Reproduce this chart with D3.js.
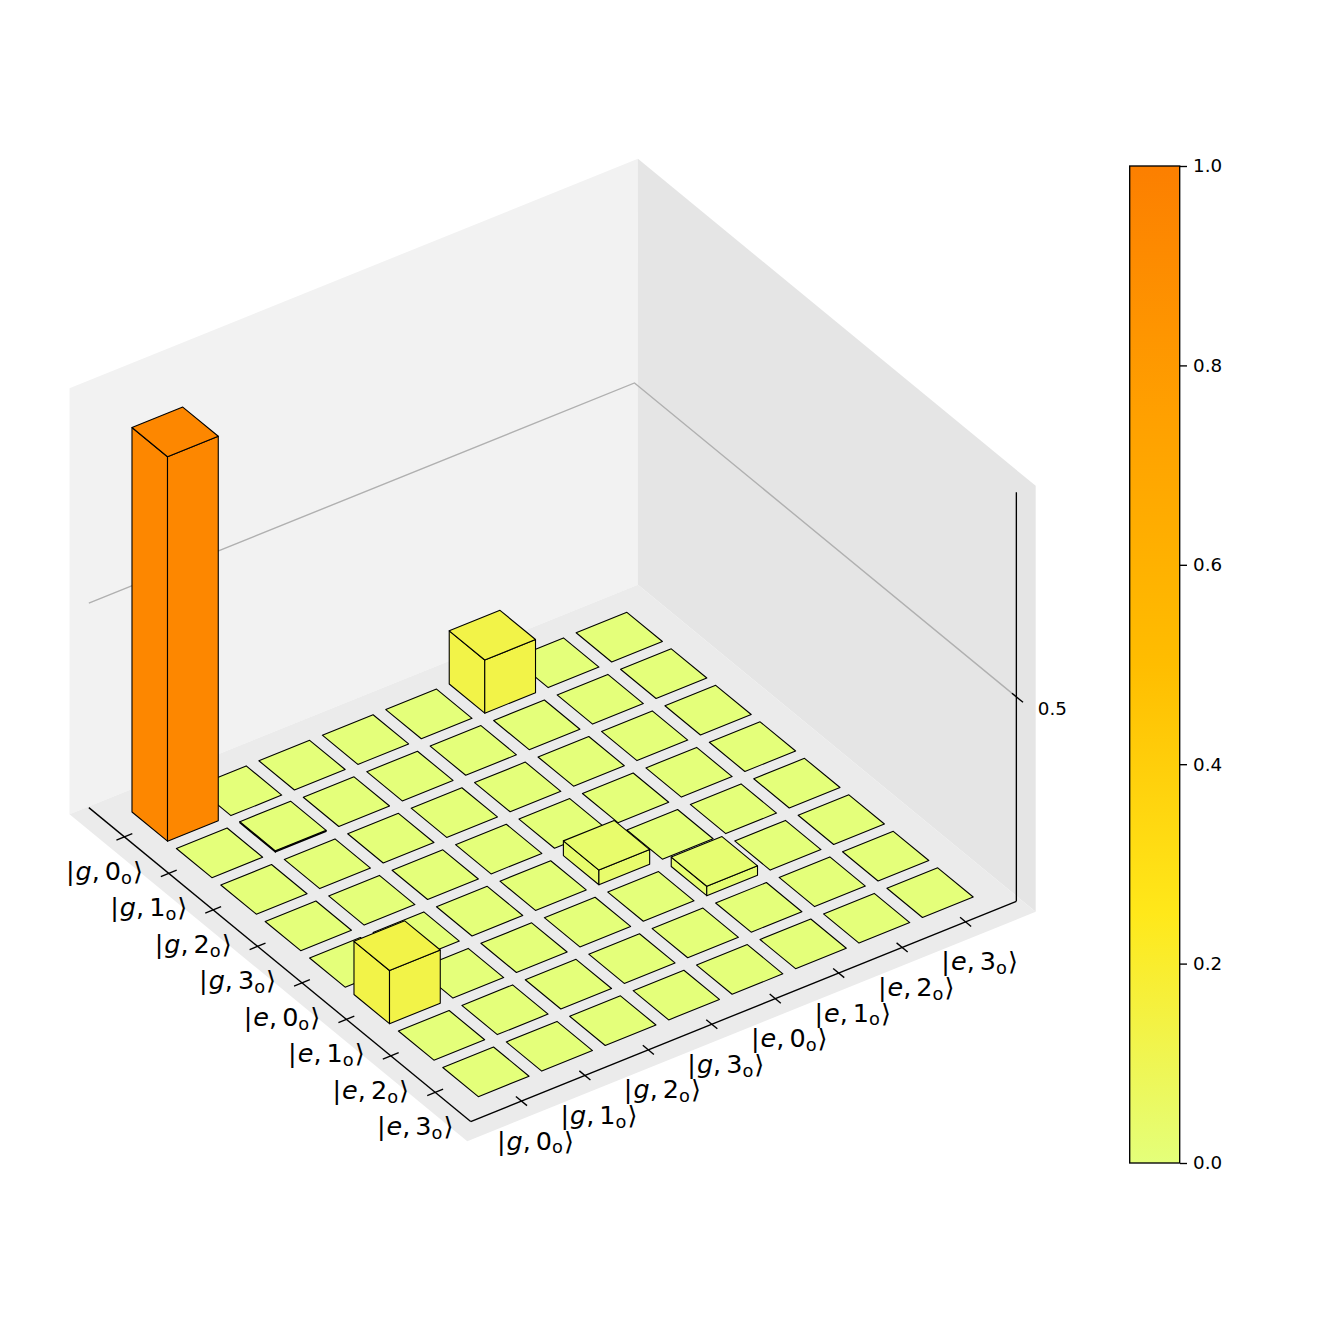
<!DOCTYPE html>
<meta charset="utf-8">
<head>
<style>
body { margin: 0; background: #fff; }
svg { display: block; }
text { font-family: "DejaVu Sans"; fill: #000; }
.faces path { stroke: #000; stroke-width: 1.1; stroke-linejoin: round; }
.axis-line { stroke: #000; stroke-width: 1.35; fill: none; }
.ket { font-size: 25.5px; }
.tick-label { font-size: 18.3px; }
</style>
</head>
<body>
<svg id="chart" width="1329" height="1329"></svg>
<script src="https://d3js.org/d3.v7.min.js"></script>
<script>
// state labels, same on both floor axes
var kets = [["g", "0"], ["g", "1"], ["g", "2"], ["g", "3"], ["e", "0"], ["e", "1"], ["e", "2"], ["e", "3"]];

// density matrix |rho|, everything else is zero
var rowIdx = [0, 1, 4, 5, 5, 0];
var colIdx = [0, 1, 4, 5, 0, 5];
var barVal = [0.94, 0.003, 0.036, 0.023, 0.13, 0.13];

var zTicks = [0.5];
var cbarTicks = [0.0, 0.2, 0.4, 0.6, 0.8, 1.0];

// Wistia colormap
var cmapStops = [0, 0.25, 0.5, 0.75, 1];
var cmapColors = ["#e4ff7a", "#ffe81a", "#ffbd00", "#ffa000", "#fc7f00"];

var color = d3.scaleLinear().domain(cmapStops).range(cmapColors);

// the view is orthographic so one step along each data axis is a fixed pixel vector
var sxX = d3.scaleLinear().domain([0, 1]).range([121.2, 121.2 + 44.4]);
var sxY = d3.scaleLinear().domain([0, 1]).range([810.9, 810.9 + 36.5]);
var syX = d3.scaleLinear().domain([0, 1]).range([0, 63.45]);
var syY = d3.scaleLinear().domain([0, 1]).range([0, -25.6]);
var sz = d3.scaleLinear().domain([0, 1]).range([0, -409]);

function proj(x, y, z) {
	return [sxX(x) + syX(y), sxY(x) + syY(y) + sz(z)];
}

var line = d3.line();
var poly = function (pts) { return line(pts) + "Z"; };

var svg = d3.select("#chart");

var lo = -0.3, hi = 8.3;
var pad = (hi - lo) / 48;
var zPad = 1 / 48;

// panes
var p0 = lo - pad, p1 = hi + pad;
var panes = [
	{ fill: "#f2f2f2", pts: [proj(p0, p0, -zPad), proj(p0, p1, -zPad), proj(p0, p1, 1 + zPad), proj(p0, p0, 1 + zPad)] },
	{ fill: "#e5e5e5", pts: [proj(p0, p1, -zPad), proj(p1, p1, -zPad), proj(p1, p1, 1 + zPad), proj(p0, p1, 1 + zPad)] },
	{ fill: "#ebebeb", pts: [proj(p0, p0, -zPad), proj(p1, p0, -zPad), proj(p1, p1, -zPad), proj(p0, p1, -zPad)] }
];
svg.append("g").selectAll("path").data(panes).enter().append("path")
	.attr("d", function (d) { return poly(d.pts); })
	.attr("fill", function (d) { return d.fill; });

// z grid
svg.append("g").selectAll("path").data(zTicks).enter().append("path")
	.attr("d", function (z) { return line([proj(lo, lo, z), proj(lo, hi, z), proj(hi, hi, z)]); })
	.attr("fill", "none")
	.attr("stroke", "#b0b0b0")
	.attr("stroke-width", 1.4);

// axis lines
var axisPaths = [
	[proj(lo, lo, 0), proj(hi, lo, 0)],
	[proj(hi, lo, 0), proj(hi, hi, 0)],
	[proj(hi, hi, 0), proj(hi, hi, 1)]
];
svg.append("g").selectAll("path").data(axisPaths).enter().append("path")
	.attr("class", "axis-line")
	.attr("d", function (d) { return line(d); });

// ticks on the floor axes
var tk = 0.125;
var tickG = svg.append("g");
kets.forEach(function (k, i) {
	tickG.append("path").attr("class", "axis-line")
		.attr("d", line([proj(i + 0.5, lo - tk, 0), proj(i + 0.5, lo + tk, 0)]));
	tickG.append("path").attr("class", "axis-line")
		.attr("d", line([proj(hi + tk, i + 0.5, 0), proj(hi - tk, i + 0.5, 0)]));
});
zTicks.forEach(function (z) {
	var a = proj(hi - 0.1, hi, z), b = proj(hi + 0.15, hi, z);
	tickG.append("path").attr("class", "axis-line").attr("d", line([a, b]));
	var c = proj(hi, hi, z);
	tickG.append("text").attr("class", "tick-label")
		.attr("x", c[0] + 36).attr("y", c[1] + 18.5)
		.attr("text-anchor", "middle")
		.text(d3.format(".1f")(z));
});

// ket label, mathtext style: |g, 0_o>
function ket(g, k, cx, cy) {
	var t = g.append("text").attr("class", "ket")
		.attr("x", cx).attr("y", cy + 8)
		.attr("text-anchor", "middle");
	t.append("tspan").text("|");
	t.append("tspan").attr("dx", 1).attr("font-style", "italic").text(k[0]);
	t.append("tspan").text(",");
	t.append("tspan").attr("dx", 5).text(k[1]);
	t.append("tspan").attr("font-size", "17.8px").attr("dy", 3.8).text("o");
	t.append("tspan").attr("dx", 1).attr("dy", -3.8).text("\u27e9");
}
var labelG = svg.append("g");
kets.forEach(function (k, i) {
	var a = proj(i + 0.5, lo, 0);
	ket(labelG, k, a[0] - 20, a[1] + 35);
	var b = proj(hi, i + 0.5, 0);
	ket(labelG, k, b[0] + 14, b[1] + 40.5);
});

// bars, zero height ones are only a flat tile
var w = 0.8, off = 0.1;
var bars = [];
d3.range(8).forEach(function (i) {
	d3.range(8).forEach(function (j) {
		var h = 0;
		rowIdx.forEach(function (r, n) {
			if (r === i && colIdx[n] === j) { h = barVal[n]; }
		});
		bars.push({ i: i, j: j, h: h });
	});
});
// painter's order, far corner first
bars.sort(function (a, b) { return (a.i - a.j) - (b.i - b.j); });

var faces = svg.append("g").attr("class", "faces");
bars.forEach(function (d) {
	var x0 = d.i + off, x1 = x0 + w, y0 = d.j + off, y1 = y0 + w;
	var fill = color(d.h);
	if (d.h > 0) {
		faces.append("path").attr("fill", fill)
			.attr("d", poly([proj(x0, y0, 0), proj(x1, y0, 0), proj(x1, y0, d.h), proj(x0, y0, d.h)]));
		faces.append("path").attr("fill", fill)
			.attr("d", poly([proj(x1, y0, 0), proj(x1, y1, 0), proj(x1, y1, d.h), proj(x1, y0, d.h)]));
	}
	faces.append("path").attr("fill", fill)
		.attr("d", poly([proj(x0, y0, d.h), proj(x1, y0, d.h), proj(x1, y1, d.h), proj(x0, y1, d.h)]));
});

// colorbar
var cbY = d3.scaleLinear().domain([0, 1]).range([1163, 166]);
var defs = svg.append("defs");
var grad = defs.append("linearGradient").attr("id", "wistia")
	.attr("x1", 0).attr("y1", 1).attr("x2", 0).attr("y2", 0);
cmapStops.forEach(function (s, n) {
	grad.append("stop").attr("offset", s).attr("stop-color", cmapColors[n]);
});
svg.append("rect")
	.attr("x", 1129.7).attr("y", cbY(1))
	.attr("width", 50).attr("height", cbY(0) - cbY(1))
	.attr("fill", "url(#wistia)")
	.attr("stroke", "#000").attr("stroke-width", 1.35);

var cbAxis = d3.axisRight(cbY).tickValues(cbarTicks).tickFormat(d3.format(".1f")).tickSize(7).tickPadding(6);
var cbG = svg.append("g").attr("transform", "translate(1180,0)").call(cbAxis);
cbG.select(".domain").remove();
cbG.selectAll(".tick line").attr("stroke", "#000").attr("stroke-width", 1.35);
cbG.selectAll("text").attr("class", "tick-label").style("font-family", '"DejaVu Sans"').style("font-size", "18.3px");
</script>
</body>
</html>
